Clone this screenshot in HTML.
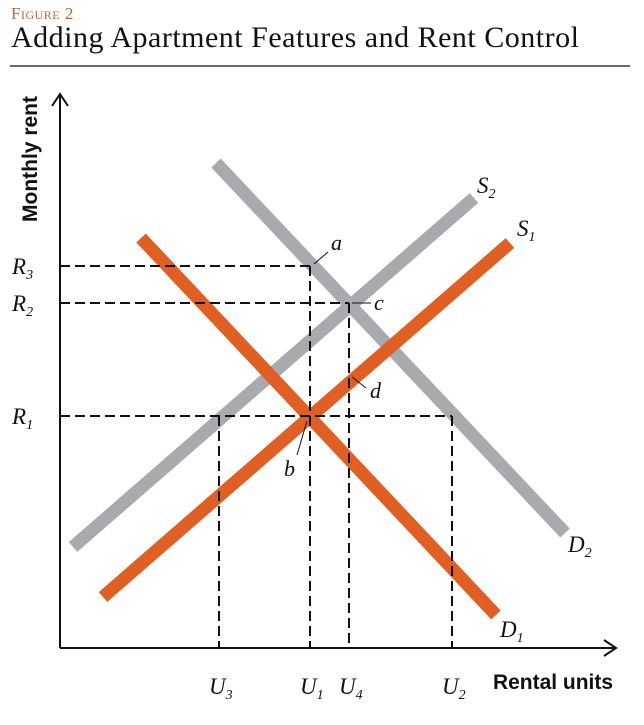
<!DOCTYPE html>
<html><head><meta charset="utf-8"><style>
body{margin:0;background:#fff;width:644px;height:725px;overflow:hidden;font-family:"Liberation Serif",serif}
#fig{position:absolute;left:11px;top:4px;font-size:17px;color:#b8673c;font-variant:small-caps;letter-spacing:0.5px}
#title{position:absolute;left:11px;top:21px;font-size:30px;color:#111;letter-spacing:0.5px}
#rule{position:absolute;left:10px;top:65px;width:620px;height:2px;background:#6b6b6b}
svg{position:absolute;left:0;top:0}
</style></head><body>
<div id="fig">Figure 2</div>
<div id="title">Adding Apartment Features and Rent Control</div>
<div id="rule"></div>
<svg id="chart" width="644" height="725"></svg>
<script>
const lineNames=["S2","D2","S1","D1"];
const lineX1=[13,156,43,81];
const lineY1=[101,485,51,410];
const lineX2=[414,505,450,436];
const lineY2=[450,115,405,33];
const priceLabels=["R3","R2","R1"];
const priceLevels=[382,345,232];
const priceEndU=[250,289,392];
const unitLabels=["U3","U1","U4","U2"];
const unitLevels=[159,250,289,392];
const unitFromP=[232,382,345,232];

const NS="http://www.w3.org/2000/svg";
const svg=document.getElementById('chart');
const x=v=>60+v, y=v=>648-v;
function mk(t,a){const e=document.createElementNS(NS,t);for(const k in a)e.setAttribute(k,a[k]);svg.appendChild(e);return e;}
const colors={S2:"#a9aaad",D2:"#a9aaad",S1:"#e05f25",D1:"#e05f25"};
lineNames.forEach((n,i)=>{
  const l=mk('line',{x1:x(lineX1[i]),y1:y(lineY1[i]),x2:x(lineX2[i]),y2:y(lineY2[i]),stroke:colors[n],'stroke-width':13});
  
  
});
priceLevels.forEach((p,i)=>{
  const l=mk('line',{x1:x(0),y1:y(p),x2:x(priceEndU[i]),y2:y(p),stroke:'#111','stroke-width':2,'stroke-dasharray':'10 5'});
  
  
  const t=mk('text',{x:12,y:y(p)+8,'font-size':23,'font-style':'italic',fill:'#111'});
  t.innerHTML=priceLabels[i][0]+'<tspan font-size="14" dy="5">'+priceLabels[i].slice(1)+'</tspan>';
  
  
});
unitLevels.forEach((u,i)=>{
  const l=mk('line',{x1:x(u),y1:y(unitFromP[i]),x2:x(u),y2:y(0),stroke:'#111','stroke-width':2,'stroke-dasharray':'10 5'});
  
  
  const t=mk('text',{x:x(u)-10,y:694,'font-size':23,'font-style':'italic',fill:'#111'});
  t.innerHTML=unitLabels[i][0]+'<tspan font-size="14" dy="5">'+unitLabels[i].slice(1)+'</tspan>';
  
  
});
const ax=mk('path',{d:'M60 648 V96 M52 106 L60 94 L68 106 M60 648 H614 M604 640 L616 648 L604 656',stroke:'#111','stroke-width':2,fill:'none'});


const yt=mk('text',{x:0,y:0,transform:'translate(37,222) rotate(-90)','font-family':'Liberation Sans Narrow, Liberation Sans, sans-serif','font-weight':'bold','font-size':21,fill:'#111',textLength:126,lengthAdjust:'spacingAndGlyphs'});
yt.textContent='Monthly rent';


const xt=mk('text',{x:493,y:689,'font-family':'Liberation Sans Narrow, Liberation Sans, sans-serif','font-weight':'bold','font-size':21,fill:'#111',textLength:120,lengthAdjust:'spacingAndGlyphs'});
xt.textContent='Rental units';


const cl=[["S","2",477,193],["S","1",517,236],["D","2",568,552],["D","1",500,637]];
cl.forEach(c=>{
  const t=mk('text',{x:c[2],y:c[3],'font-size':23,'font-style':'italic',fill:'#111'});
  t.innerHTML=c[0]+'<tspan font-size="14" dy="5">'+c[1]+'</tspan>';
  
  
});
const pl=[["a",331,250,"M314 264 L328 252"],["c",374,310,"M352 303 L371 303"],["d",370,398,"M352 377 L366 388"],["b",284,476,"M307 421 L297 455"]];
pl.forEach(p=>{
  const l=mk('path',{d:p[3],stroke:'#111','stroke-width':1,fill:'none'});
  
  
  const t=mk('text',{x:p[1],y:p[2],'font-size':22,'font-style':'italic',fill:'#111'});
  t.textContent=p[0];
  
  
});
</script>
</body></html>
